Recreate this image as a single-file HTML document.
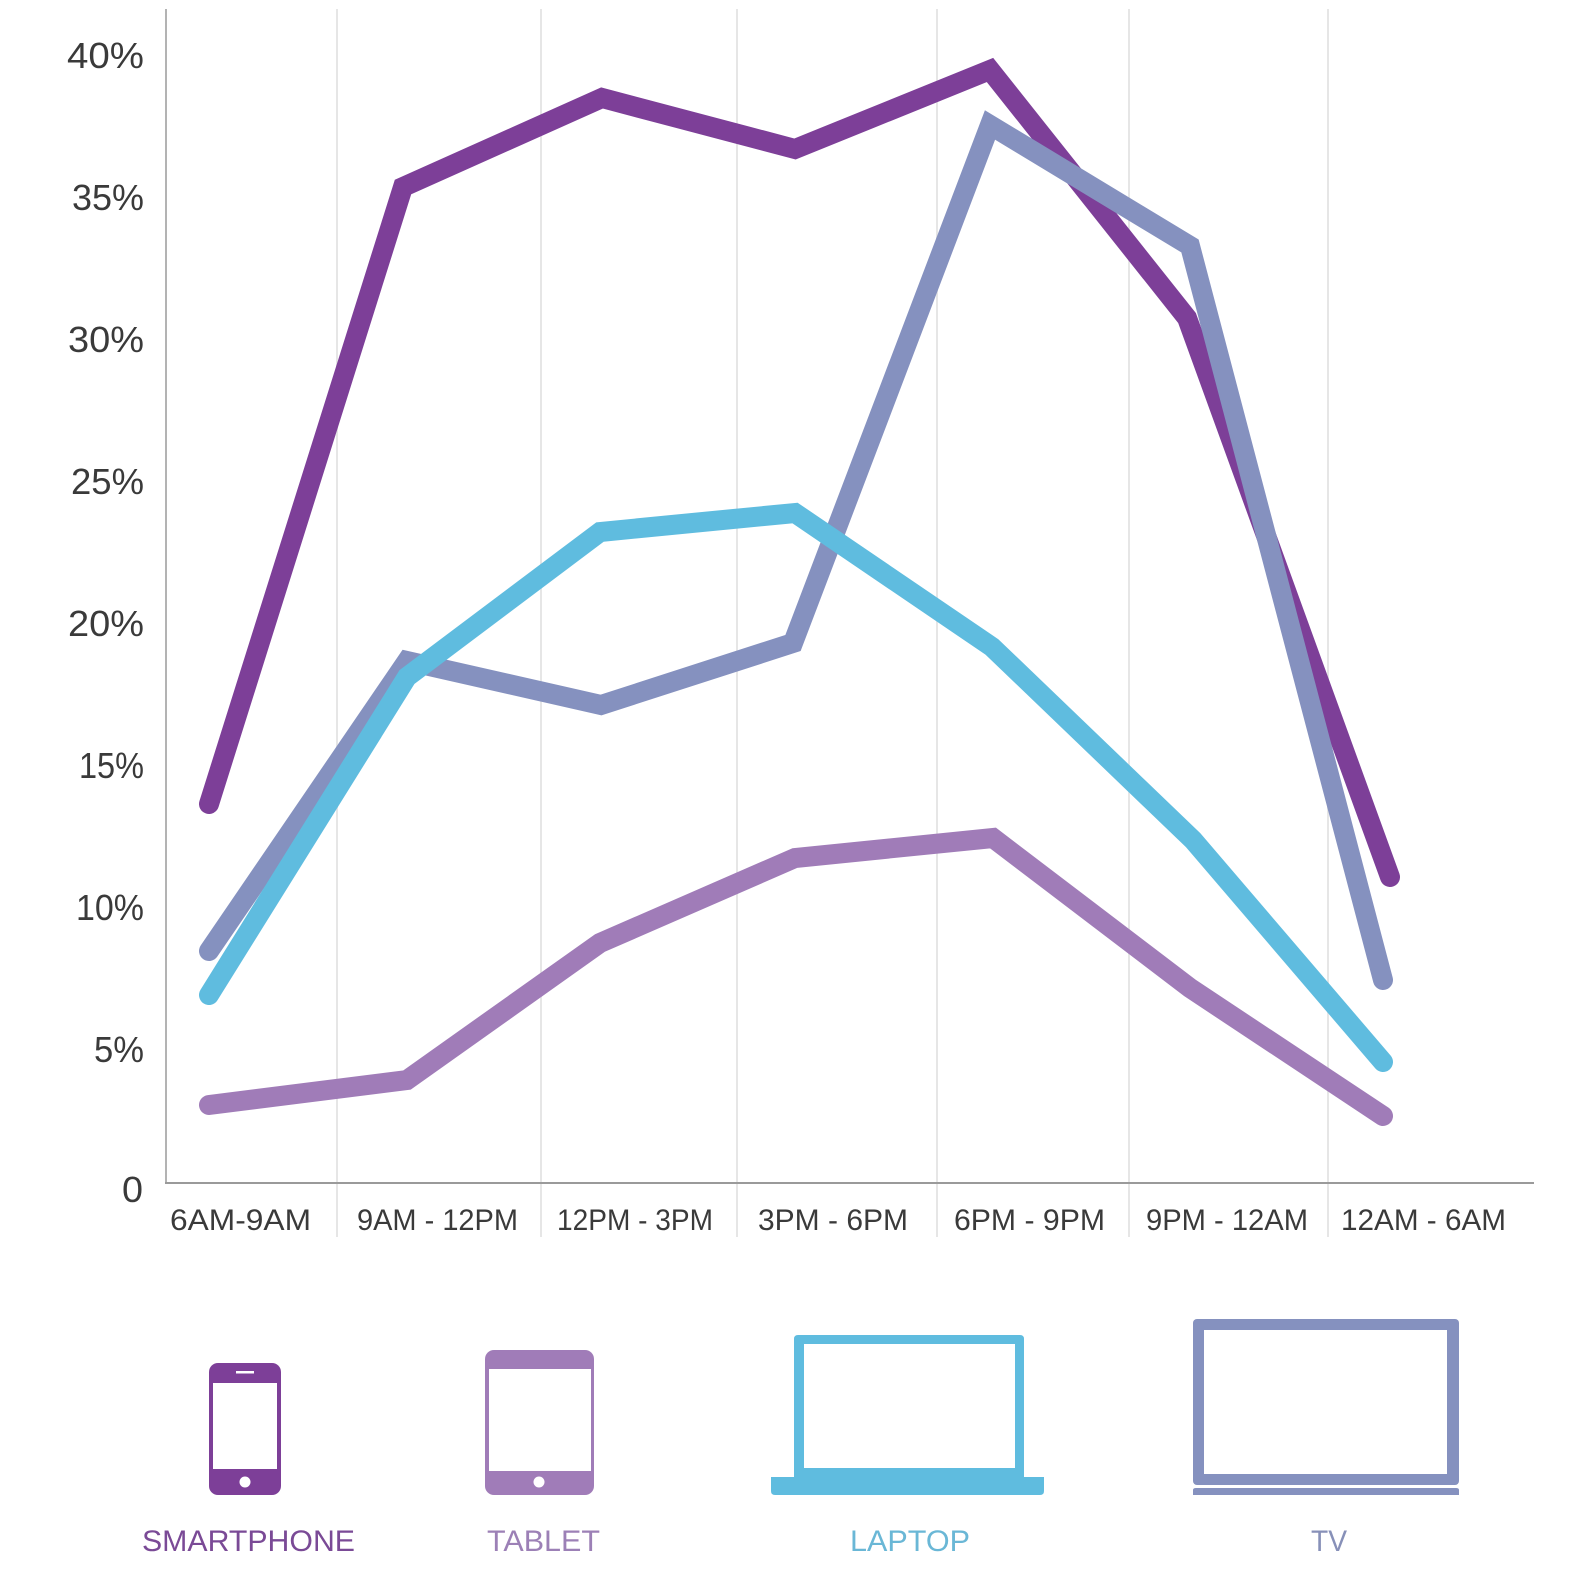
<!DOCTYPE html>
<html>
<head>
<meta charset="utf-8">
<style>
  html, body { margin: 0; padding: 0; background: #ffffff; }
  body { width: 1583px; height: 1594px; overflow: hidden; }
  svg { display: block; }
  text { font-family: "Liberation Sans", "DejaVu Sans", sans-serif; }
</style>
</head>
<body>
<svg width="1583" height="1594" viewBox="0 0 1583 1594" xmlns="http://www.w3.org/2000/svg">
  <rect x="0" y="0" width="1583" height="1594" fill="#ffffff"/>

  <!-- vertical gridlines -->
  <g stroke="#e6e6e6" stroke-width="2">
    <line x1="337" y1="9" x2="337" y2="1237"/>
    <line x1="541" y1="9" x2="541" y2="1237"/>
    <line x1="737" y1="9" x2="737" y2="1237"/>
    <line x1="937" y1="9" x2="937" y2="1237"/>
    <line x1="1129" y1="9" x2="1129" y2="1237"/>
    <line x1="1328" y1="9" x2="1328" y2="1237"/>
  </g>

  <!-- axes -->
  <line x1="166" y1="9" x2="166" y2="1184" stroke="#b3b3b3" stroke-width="2"/>
  <line x1="165" y1="1183" x2="1534" y2="1183" stroke="#9a9a9a" stroke-width="2"/>

  <!-- y labels -->
  <g fill="#3a3a3a" font-size="36" text-anchor="end">
    <text x="144" y="68" textLength="77" lengthAdjust="spacingAndGlyphs">40%</text>
    <text x="144" y="210" textLength="72" lengthAdjust="spacingAndGlyphs">35%</text>
    <text x="144" y="352" textLength="76" lengthAdjust="spacingAndGlyphs">30%</text>
    <text x="144" y="494" textLength="73" lengthAdjust="spacingAndGlyphs">25%</text>
    <text x="144" y="636" textLength="76" lengthAdjust="spacingAndGlyphs">20%</text>
    <text x="144" y="778" textLength="65" lengthAdjust="spacingAndGlyphs">15%</text>
    <text x="144" y="920" textLength="68" lengthAdjust="spacingAndGlyphs">10%</text>
    <text x="144" y="1062" textLength="50" lengthAdjust="spacingAndGlyphs">5%</text>
    <text x="143" y="1202" textLength="21" lengthAdjust="spacingAndGlyphs">0</text>
  </g>

  <!-- x labels -->
  <g fill="#3a3a3a" font-size="30">
    <text x="170" y="1230" textLength="141" lengthAdjust="spacingAndGlyphs">6AM-9AM</text>
    <text x="357" y="1230" textLength="161" lengthAdjust="spacingAndGlyphs">9AM - 12PM</text>
    <text x="557" y="1230" textLength="156" lengthAdjust="spacingAndGlyphs">12PM - 3PM</text>
    <text x="758" y="1230" textLength="150" lengthAdjust="spacingAndGlyphs">3PM - 6PM</text>
    <text x="954" y="1230" textLength="151" lengthAdjust="spacingAndGlyphs">6PM - 9PM</text>
    <text x="1146" y="1230" textLength="162" lengthAdjust="spacingAndGlyphs">9PM - 12AM</text>
    <text x="1341" y="1230" textLength="165" lengthAdjust="spacingAndGlyphs">12AM - 6AM</text>
  </g>

  <!-- series -->
  <g fill="none" stroke-width="20" stroke-linecap="round" stroke-linejoin="miter" stroke-miterlimit="3">
    <!-- smartphone -->
    <polyline stroke="#7d3f98" points="209,804 403,187 602,98 795,149 990,70 1187,318 1390,877"/>
    <!-- tablet -->
    <polyline stroke="#a07cb8" points="209,1105 407,1080 600,943 795,858 993,838 1190,988 1383,1116"/>
    <!-- tv -->
    <polyline stroke="#8591bf" points="209,951 407,661 601,705 793,643 990,125 1190,246 1383,980"/>
    <!-- laptop -->
    <polyline stroke="#5fbcdf" points="209,995 407,677 600,532 795,513 992,647 1193,840 1383,1062"/>
  </g>

  <!-- smartphone icon -->
  <rect x="209" y="1363" width="72" height="132" rx="9" fill="#7d3f98"/>
  <rect x="213" y="1383" width="64" height="86" fill="#ffffff"/>
  <rect x="236" y="1371" width="18" height="2.5" fill="#ffffff"/>
  <circle cx="245" cy="1482" r="5.5" fill="#ffffff"/>

  <!-- tablet icon -->
  <rect x="485" y="1350" width="109" height="145" rx="9" fill="#a07cb8"/>
  <rect x="489" y="1369" width="102" height="102" fill="#ffffff"/>
  <circle cx="539" cy="1482" r="5.5" fill="#ffffff"/>

  <!-- laptop icon -->
  <path d="M794,1339 Q794,1335 798,1335 L1020,1335 Q1024,1335 1024,1339 L1024,1478 L794,1478 Z" fill="#5fbcdf"/>
  <rect x="804" y="1344" width="211" height="124" fill="#ffffff"/>
  <path d="M771,1477 L1044,1477 L1044,1491 Q1044,1495 1040,1495 L775,1495 Q771,1495 771,1491 Z" fill="#5fbcdf"/>

  <!-- tv icon -->
  <rect x="1193" y="1319" width="266" height="166" rx="4" fill="#8591bf"/>
  <rect x="1204" y="1330" width="243" height="144" fill="#ffffff"/>
  <path d="M1193,1495 L1193,1490 Q1193,1488 1196,1488 L1456,1488 Q1459,1488 1459,1490 L1459,1495 Z" fill="#8591bf"/>

  <!-- legend labels -->
  <g font-size="30">
    <text x="142" y="1551" fill="#7a4a96" textLength="213" lengthAdjust="spacingAndGlyphs">SMARTPHONE</text>
    <text x="487" y="1551" fill="#9c80b6" textLength="113" lengthAdjust="spacingAndGlyphs">TABLET</text>
    <text x="850" y="1551" fill="#6ab7d6" textLength="120" lengthAdjust="spacingAndGlyphs">LAPTOP</text>
    <text x="1311" y="1551" fill="#8790b8" textLength="36" lengthAdjust="spacingAndGlyphs">TV</text>
  </g>
</svg>
</body>
</html>
